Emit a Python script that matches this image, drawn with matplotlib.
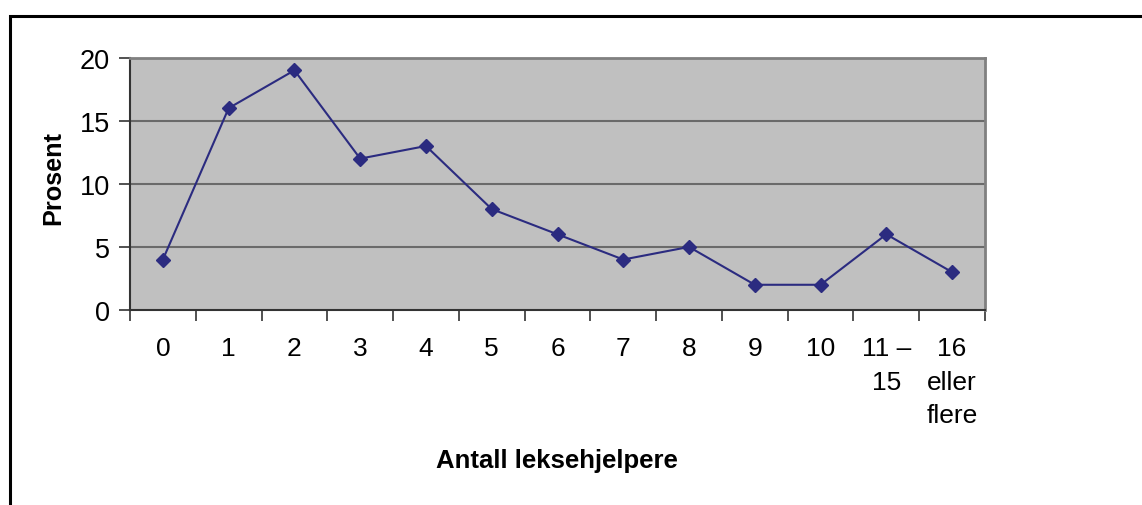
import matplotlib
matplotlib.use("Agg")
import matplotlib.pyplot as plt
from matplotlib.patches import Rectangle
import numpy as np

categories = ["0", "1", "2", "3", "4", "5", "6", "7", "8", "9", "10", "11 –\n15", "16\neller\nflere"]
values = [4, 16, 19, 12, 13, 8, 6, 4, 5, 2, 2, 6, 3]
yticks = [0, 5, 10, 15, 20]

plt.rcParams['font.family'] = ['Liberation Sans', 'DejaVu Sans']

W, H = 1142, 506
fig = plt.figure(figsize=(W / 100, H / 100), dpi=100)
fig.patch.set_facecolor('white')

# outer frame (only top and left visible)
fig.add_artist(Rectangle((9.5 / W, -0.2), 1.5, 0.2 + 1 - 16.5 / H,
                         transform=fig.transFigure, fill=False,
                         edgecolor='black', linewidth=2.2))

left, right, bottom, top = 130 / W, 985 / W, 1 - 311 / H, 1 - 58.7 / H
ax = fig.add_axes([left, bottom, right - left, top - bottom])
ax.set_facecolor('#C0C0C0')

x = np.arange(len(categories))
ax.set_xlim(-0.5, len(categories) - 0.5)
ax.set_ylim(0, 20)

for yv in yticks[1:]:
    ax.axhline(yv, color='#6A6A6A', linewidth=1.5, zorder=1)

ax.plot(x, values, color='#2B2B80', linewidth=1.5, marker='D',
        markersize=7.5, markerfacecolor='#2B2B80', markeredgecolor='#2B2B80', zorder=3)

ax.set_yticks(yticks)
ax.set_yticklabels([str(v) for v in yticks], fontsize=19.5)
ax.set_xticks(x)
ax.set_xticklabels(categories, fontsize=19, va='top', linespacing=1.5)
ax.set_xticks(np.arange(-0.5, len(categories), 1.0), minor=True)
ax.tick_params(axis='x', which='major', length=0, pad=19)
ax.tick_params(axis='x', which='minor', length=8, width=1.2, color='#333333', direction='out')
ax.tick_params(axis='y', length=8, width=1.2, color='#333333', direction='out', pad=6.5)

for s in ['top', 'right']:
    ax.spines[s].set_color('#808080')
    ax.spines[s].set_linewidth(2)
ax.spines['left'].set_color('#333333')
ax.spines['left'].set_linewidth(1.5)
ax.spines['bottom'].set_color('#333333')
ax.spines['bottom'].set_linewidth(1.5)

fig.text(53 / W, 1 - 178 / H, "Prosent", rotation=90, fontsize=18.2,
         fontweight='bold', ha='center', va='center')
fig.text(557 / W, 1 - 461 / H, "Antall leksehjelpere", fontsize=18.5,
         fontweight='bold', ha='center', va='center')

fig.savefig("out.png", dpi=100, facecolor='white')
